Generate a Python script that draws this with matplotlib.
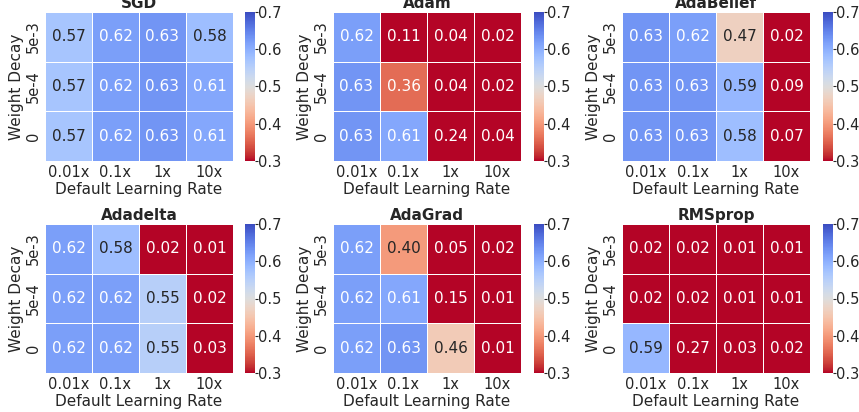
import numpy as np
import matplotlib
matplotlib.use("Agg")
import matplotlib.pyplot as plt
import seaborn as sns

optimizers = ["SGD", "Adam", "AdaBelief", "Adadelta", "AdaGrad", "RMSprop"]
lr_labels = ["0.01x", "0.1x", "1x", "10x"]
wd_labels = ["5e-3", "5e-4", "0"]

# rows: weight decay 5e-3, 5e-4, 0 ; cols: learning rate scale
sgd = [[0.57, 0.62, 0.63, 0.58],
       [0.57, 0.62, 0.63, 0.61],
       [0.57, 0.62, 0.63, 0.61]]
adam = [[0.62, 0.11, 0.04, 0.02],
        [0.63, 0.36, 0.04, 0.02],
        [0.63, 0.61, 0.24, 0.04]]
adabelief = [[0.63, 0.62, 0.47, 0.02],
             [0.63, 0.63, 0.59, 0.09],
             [0.63, 0.63, 0.58, 0.07]]
adadelta = [[0.62, 0.58, 0.02, 0.01],
            [0.62, 0.62, 0.55, 0.02],
            [0.62, 0.62, 0.55, 0.03]]
adagrad = [[0.62, 0.40, 0.05, 0.02],
           [0.62, 0.61, 0.15, 0.01],
           [0.62, 0.63, 0.46, 0.01]]
rmsprop = [[0.02, 0.02, 0.01, 0.01],
           [0.02, 0.02, 0.01, 0.01],
           [0.59, 0.27, 0.03, 0.02]]

results = [sgd, adam, adabelief, adadelta, adagrad, rmsprop]

sns.set_theme(style="white")
plt.rcParams["font.family"] = ["DejaVu Sans"]

fig = plt.figure(figsize=(8.59, 4.12), dpi=100)

W, H = 859.0, 412.0
col_x = [45, 333, 622]
cbar_x = [245, 534, 823]
row_top = [12, 224]
hm_w, hm_h = 188, 149

for i, (name, vals) in enumerate(zip(optimizers, results)):
    r, c = divmod(i, 3)
    ax = fig.add_axes([col_x[c] / W, 1 - (row_top[r] + hm_h) / H, hm_w / W, hm_h / H])
    cax = fig.add_axes([cbar_x[c] / W, 1 - (row_top[r] + hm_h) / H, 10 / W, hm_h / H])
    sns.heatmap(np.array(vals), ax=ax, cbar_ax=cax, cmap="coolwarm_r", vmin=0.3, vmax=0.7,
                annot=True, fmt=".2f", annot_kws={"size": 11},
                linewidths=0.6, linecolor="white",
                xticklabels=lr_labels, yticklabels=wd_labels)
    ax.set_title(name, fontsize=11, fontweight="bold", pad=3)
    ax.set_xlabel("Default Learning Rate", fontsize=11, labelpad=1)
    ax.set_ylabel("Weight Decay", fontsize=11, labelpad=1)
    ax.tick_params(axis="both", labelsize=10.5, length=0, pad=3)
    ax.set_yticklabels(wd_labels, rotation=90, va="center")
    cax.set_yticks([0.3, 0.4, 0.5, 0.6, 0.7])
    cax.tick_params(labelsize=10.5, length=2, width=0.8, pad=0.3)

fig.savefig("out.png", dpi=100)
